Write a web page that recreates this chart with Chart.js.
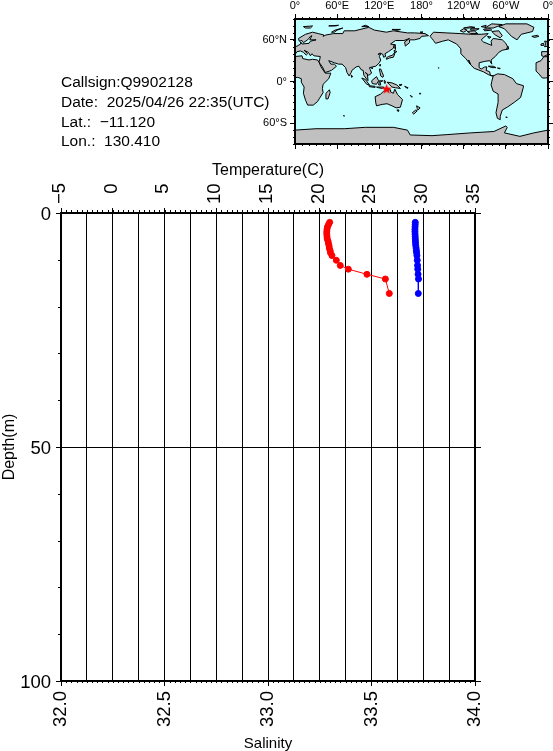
<!DOCTYPE html>
<html>
<head>
<meta charset="utf-8">
<script src="https://cdn.jsdelivr.net/npm/chart.js@4"></script>
<style>
  html, body { margin: 0; padding: 0; background: #fff; overflow: hidden; }
  #wrap { position: relative; width: 553px; height: 751px; overflow: hidden; }
  canvas { position: absolute; }
  .info { position: absolute; left: 61px; font: 15.5px "Liberation Sans", sans-serif; white-space: pre; color: #000; line-height: 18px; }
</style>
</head>
<body>
<div id="wrap">
  <canvas id="profile" width="553" height="751" style="left:0;top:0"></canvas>
  <canvas id="map" width="340" height="155" style="left:240px;top:0"></canvas>
  <div class="info" style="top:73px">Callsign:Q9902128</div>
  <div class="info" style="top:93px">Date:  2025/04/26 22:35(UTC)</div>
  <div class="info" style="top:113px">Lat.:  −11.120</div>
  <div class="info" style="top:132px">Lon.:  130.410</div>
</div>
<script>
// profile values
var depths =   [2, 2.5, 3, 3.5, 4, 4.5, 5, 5.5, 6, 6.5, 7, 7.5, 8, 8.5, 9.1, 10.1, 11.2, 12, 13.1, 14.1, 17.2];
var salinity = [33.298, 33.292, 33.287, 33.285, 33.284, 33.284, 33.285, 33.286, 33.29, 33.292, 33.295, 33.296, 33.3, 33.302, 33.309, 33.33, 33.349, 33.388, 33.478, 33.567, 33.586];
var temperature = [29.23, 29.22, 29.21, 29.2, 29.2, 29.21, 29.22, 29.23, 29.24, 29.26, 29.28, 29.31, 29.33, 29.36, 29.39, 29.42, 29.45, 29.47, 29.5, 29.54, 29.52];

// station position
var stationLon = 130.41;
var stationLat = -11.12;

// map tick labels
var lonLabels = {0: "0°", 60: "60°E", 120: "120°E", 180: "180°", 240: "120°W", 300: "60°W", 360: "0°"};
var latLabels = {60: "60°N", 0: "0°", "-60": "60°S"};

// coastlines, [lon, lat], lon runs 0..360
var eurasia = [[0,39],[3,43],[8,44],[12,42],[16,38],[18,40],[13,45],[19,42],[22,37],[24,40],[27,37],[36,36],[35,31],[34,28],[39,21],[43,13],[52,16],[59,22],[56,25],[51,25],[48,30],[56,27],[62,25],[67,25],[72,20],[74,13],[77,8],[80,13],[81,16],[87,21],[91,22],[94,17],[97,16],[98,9],[103,2],[104,1],[103,10],[100,13],[105,9],[109,12],[107,17],[106,20],[110,21],[115,22],[120,27],[122,31],[120,36],[122,40],[118,39],[121,41],[125,39],[126,35],[129,36],[128,40],[133,43],[140,48],[141,53],[136,54],[143,59],[155,59],[163,62],[156,57],[157,51],[163,56],[163,60],[170,60],[178,62],[180,65],[190,66],[185,69],[170,70],[160,70],[140,73],[130,71],[113,74],[105,78],[85,73],[70,73],[68,69],[55,69],[44,67],[40,65],[41,67],[33,69],[25,71],[15,68],[5,62],[6,58],[10,59],[12,56],[18,60],[22,65],[24,66],[21,60],[30,60],[22,58],[20,55],[10,54],[8,57],[8,54],[3,51],[0,50]];
var iberia = [[360,43],[351,43],[351,37],[354,36],[360,39]];
var africaEast = [[0,36],[10,37],[11,33],[20,31],[25,32],[32,31],[34,28],[37,21],[43,12],[51,12],[48,4],[40,-4],[39,-10],[40,-16],[35,-24],[32,-29],[26,-34],[18,-34],[15,-27],[12,-17],[13,-8],[9,-1],[9,4],[4,6],[0,5.5]];
var africaWest = [[360,36],[354,35.5],[350,30],[343,27],[343,21],[343,15],[347,11],[352,5],[356,5],[360,5.5]];
var madagascar = [[49,-12],[50,-16],[47,-25],[44,-25],[44,-17]];
var australia = [[114,-22],[122,-18],[126,-14],[131,-12],[136,-12],[136,-15],[140,-17],[142,-11],[146,-19],[153,-26],[150,-37],[144,-38],[138,-35],[131,-32],[124,-33],[116,-35],[115,-31]];
var tasmania = [[145,-41],[148,-41],[147,-43.5]];
var newZealandN = [[173,-35],[178,-38],[175,-41],[174,-39]];
var newZealandS = [[172,-41],[174,-42],[169,-47],[167,-45]];
var newGuinea = [[131,-1],[138,-2],[145,-5],[150,-10],[143,-9],[138,-8],[134,-4]];
var borneo = [[109,1],[116,7],[119,1],[116,-4],[110,-3]];
var sumatra = [[95,5],[100,3],[106,-5],[102,-4]];
var java = [[105,-6],[114,-7],[114,-8.5],[106,-7.5]];
var sulawesi = [[120,1],[125,1],[121,-1],[122,-5],[119,-5]];
var lesserSunda = [[116,-8],[125,-8],[127,-8.5],[124,-10],[119,-9]];
var moluccas = [[127,2],[129,0],[128,-3],[127,-1]];
var newBritain = [[148,-5],[152,-4],[151,-6]];
var solomons = [[156,-7],[161,-9],[160,-10]];
var philippines = [[120,18],[122,18],[124,13],[126,8],[125,6],[122,8],[121,13]];
var japan = [[130,32],[135,34],[140,35],[142,40],[141,45],[145,43],[141,41],[139,38],[133,36],[130,34]];
var sakhalin = [[142,54],[143,50],[143,46],[142,48]];
var taiwan = [[121,25],[122,24],[121,22],[120,23]];
var hainan = [[109,20],[111,19.5],[109.5,18]];
var sriLanka = [[80,9.5],[82,7],[80.5,6]];
var britain = [[355,58],[358,58],[360,53],[360,51],[355,50],[357,54]];
var ireland = [[350,54],[354,55],[354,52],[350,52]];
var iceland = [[337,65],[345,66.5],[347,65],[341,63.5]];
var svalbard = [[12,79],[25,80],[22,77],[15,77]];
var novayaZemlya = [[52,71],[57,74],[68,77],[60,74],[56,71]];
var severnaya = [[95,79],[105,79],[100,81]];
var newSiberia = [[138,75],[150,75],[145,73.5]];
var franzJosef = [[48,80],[62,81],[58,80]];
var wrangel = [[178,71],[182,71.5],[181,70.5]];
var hawaii = [[204,20],[205,19.5],[204.5,19]];
var fiji = [[177,-17],[179,-17],[178,-18.5]];
var newCaledonia = [[164,-20],[167,-22],[166,-22.5]];
var falkland = [[300,-51],[302,-51.5],[301,-52.5]];
var kerguelen = [[69,-49],[70.5,-49.5],[69.5,-50]];
var northAmerica = [[192,65],[197,71],[215,70],[235,69],[250,68],[265,68],[275,69],[265,60],[268,57],[280,52],[279,58],[282,62],[295,60],[300,55],[304,47],[295,45],[290,42],[285,36],[279,31],[280,25],[277,30],[270,29],[262,27],[262,20],[265,18],[270,21],[273,21],[272,16],[277,14],[278,9],[283,8],[280,8],[275,10],[268,14],[255,19],[250,24],[247,31],[250,24],[243,33],[236,40],[236,47],[230,54],[218,60],[210,58],[200,55],[197,59],[195,62]];
var southAmerica = [[282,8],[288,11],[298,10],[310,4],[315,-3],[325,-6],[325,-8],[321,-23],[312,-30],[302,-37],[295,-41],[292,-50],[292,-55],[288,-53],[286,-45],[289,-30],[289,-18],[282,-14],[279,-5],[280,0]];
var greenland = [[316,60],[308,65],[298,76],[290,79],[300,83],[330,83],[340,78],[338,72],[322,68]];
var baffin = [[280,72],[290,73],[295,66],[292,63],[285,67]];
var ellesmere = [[270,77],[280,83],[295,82],[282,77]];
var devon = [[268,75],[278,76],[280,74],[270,73]];
var axelHeiberg = [[265,79],[272,81],[270,78]];
var victoria = [[245,72],[255,73],[260,69],[250,69]];
var banks = [[235,73],[240,76],[245,74],[240,71]];
var melville = [[250,76],[262,76],[258,74],[250,74]];
var parry = [[240,77],[250,79],[256,78],[248,77]];
var southampton = [[274,65],[279,64],[276,62]];
var cuba = [[275,22],[282,22],[286,20],[280,20]];
var hispaniola = [[288,19.5],[292,19],[291,18]];
var newfoundland = [[301,47],[304,47],[303,51]];
var antarctica = [[0,-70],[30,-68],[70,-68],[100,-66],[140,-66],[160,-70],[164,-77],[195,-78],[216,-76.5],[250,-74],[283,-72],[300,-64],[302,-66],[298,-74],[320,-79],[340,-74],[360,-70],[360,-90],[0,-90]];
var landShapes = [eurasia, iberia, africaEast, africaWest, madagascar, australia, tasmania, newZealandN, newZealandS, newGuinea, borneo, sumatra, java, sulawesi, lesserSunda, moluccas, newBritain, solomons, philippines, japan, sakhalin, taiwan, hainan, sriLanka, britain, ireland, iceland, svalbard, novayaZemlya, severnaya, newSiberia, franzJosef, wrangel, hawaii, fiji, newCaledonia, falkland, kerguelen, northAmerica, southAmerica, greenland, baffin, ellesmere, devon, axelHeiberg, victoria, banks, melville, parry, southampton, cuba, hispaniola, newfoundland, antarctica];

Chart.defaults.font.family = '"Liberation Sans", sans-serif';
Chart.defaults.color = "#000";

// short tick marks outside the frame, Chart.js has no minor ticks on linear axes
var minorTicks = {
  id: "minorTicks",
  afterDraw: function (chart, args, opts) {
    var ctx = chart.ctx;
    ctx.save();
    ctx.strokeStyle = "#000";
    ctx.lineWidth = 1;
    opts.list.forEach(function (m) {
      var scale = chart.scales[m.scale];
      var area = chart.chartArea;
      for (var v = scale.min; v <= scale.max + 1e-6; v += m.step) {
        var p = Math.round(scale.getPixelForValue(v)) + 0.5;
        ctx.beginPath();
        if (scale.position == "top") { ctx.moveTo(p, area.top); ctx.lineTo(p, area.top - m.len); }
        if (scale.position == "bottom") { ctx.moveTo(p, area.bottom); ctx.lineTo(p, area.bottom + m.len); }
        if (scale.position == "left") { ctx.moveTo(area.left, p); ctx.lineTo(area.left - m.len, p); }
        if (scale.position == "right") { ctx.moveTo(area.right, p); ctx.lineTo(area.right + m.len, p); }
        ctx.stroke();
      }
    });
    ctx.restore();
  }
};

// sea background and filled land, using the points the scales placed
var landFill = {
  id: "landFill",
  beforeDatasetsDraw: function (chart) {
    var ctx = chart.ctx;
    var area = chart.chartArea;
    ctx.save();
    ctx.fillStyle = "#c0ffff";
    ctx.fillRect(area.left, area.top, area.right - area.left, area.bottom - area.top);
    ctx.beginPath();
    ctx.rect(area.left, area.top, area.right - area.left, area.bottom - area.top);
    ctx.clip();
    ctx.fillStyle = "#c0c0c0";
    ctx.strokeStyle = "#000";
    ctx.lineWidth = 1;
    chart.data.datasets.forEach(function (ds, i) {
      if (!ds.land) return;
      var pts = chart.getDatasetMeta(i).data;
      ctx.beginPath();
      pts.forEach(function (p, k) {
        if (k == 0) ctx.moveTo(p.x, p.y); else ctx.lineTo(p.x, p.y);
      });
      ctx.closePath();
      ctx.fill();
      ctx.stroke();
    });
    ctx.restore();
  }
};

function toPoints(xs, ys) {
  return xs.map(function (x, i) { return {x: x, y: ys[i]}; });
}

// top axis labels read upward from the axis, pad short ones so all end level
function tempLabel(v) {
  if (v % 5 != 0) return "";
  var s = String(Math.abs(v));
  if (v < 0) return "−" + s;
  return s.length == 1 ? "\u2007" + s : s;
}

new Chart(document.getElementById("profile"), {
  type: "scatter",
  data: {
    datasets: [
      {
        label: "Salinity",
        data: toPoints(salinity, depths),
        xAxisID: "xSal",
        yAxisID: "y",
        showLine: true,
        borderColor: "#ff0000",
        backgroundColor: "#ff0000",
        borderWidth: 1,
        pointRadius: 3
      },
      {
        label: "Temperature",
        data: toPoints(temperature, depths),
        xAxisID: "xTemp",
        yAxisID: "y",
        showLine: true,
        borderColor: "#0000ff",
        backgroundColor: "#0000ff",
        borderWidth: 1,
        pointRadius: 3
      }
    ]
  },
  options: {
    responsive: false,
    animation: false,
    layout: {padding: {top: 161, left: 0, right: 72, bottom: 0}},
    plugins: {
      legend: {display: false},
      tooltip: {enabled: false},
      minorTicks: {list: [
        {scale: "xTemp", step: 0.5, len: 3},
        {scale: "xSal", step: 0.025, len: 2},
        {scale: "y", step: 10, len: 3}
      ]}
    },
    scales: {
      xTemp: {
        axis: "x",
        position: "top",
        min: -5,
        max: 35,
        afterFit: function (s) { s.height = 52; },
        title: {display: true, text: "Temperature(C)", font: {size: 16}, padding: 0},
        border: {color: "#000", width: 2},
        grid: {
          color: "#000",
          lineWidth: 1,
          tickLength: 5,
          tickColor: function (c) { return c.tick && c.tick.value % 5 == 0 ? "#000" : "rgba(0,0,0,0)"; }
        },
        ticks: {
          stepSize: 2.5,
          autoSkip: false,
          minRotation: 90,
          maxRotation: 90,
          padding: 4,
          labelOffset: 21,
          font: {size: 18.5},
          callback: tempLabel
        }
      },
      xSal: {
        axis: "x",
        position: "bottom",
        min: 32,
        max: 34,
        afterFit: function (s) { s.height = 70; },
        title: {display: true, text: "Salinity", font: {size: 15}, padding: {top: 0, bottom: -2}},
        border: {color: "#000", width: 2},
        grid: {drawOnChartArea: false, color: "#000", tickLength: 5},
        ticks: {
          stepSize: 0.5,
          autoSkip: false,
          minRotation: 90,
          maxRotation: 90,
          padding: 5,
          font: {size: 18.5},
          callback: function (v) { return v.toFixed(1); }
        }
      },
      y: {
        position: "left",
        reverse: true,
        min: 0,
        max: 100,
        afterFit: function (s) { s.width = 61; },
        title: {display: true, text: "Depth(m)", font: {size: 16}, padding: 0},
        border: {color: "#000", width: 2},
        grid: {color: "#000", lineWidth: 1, tickLength: 5},
        ticks: {stepSize: 50, padding: 5, labelOffset: 2, font: {size: 18.5}}
      },
      yRight: {
        axis: "y",
        position: "right",
        reverse: true,
        min: 0,
        max: 100,
        afterFit: function (s) { s.width = 6; },
        border: {color: "#000", width: 2},
        grid: {drawOnChartArea: false, color: "#000", tickLength: 6},
        ticks: {stepSize: 50, display: false}
      }
    }
  },
  plugins: [minorTicks]
});

// filled red star for the station, scatter has no filled star style
function starImage(size) {
  var c = document.createElement("canvas");
  c.width = size;
  c.height = size;
  var g = c.getContext("2d");
  g.fillStyle = "#ff0000";
  g.beginPath();
  for (var i = 0; i < 10; i++) {
    var r = i % 2 == 0 ? size / 2 : size / 5;
    var a = -Math.PI / 2 + i * Math.PI / 5;
    var px = size / 2 + r * Math.cos(a);
    var py = size / 2 + r * Math.sin(a);
    if (i == 0) g.moveTo(px, py); else g.lineTo(px, py);
  }
  g.closePath();
  g.fill();
  return c;
}

var mapDatasets = landShapes.map(function (shape) {
  return {
    land: true,
    showLine: false,
    pointRadius: 0,
    data: shape.map(function (p) { return {x: p[0], y: p[1]}; })
  };
});
mapDatasets.push({
  data: [{x: stationLon, y: stationLat}],
  pointStyle: starImage(11),
  pointRadius: 5
});

function frameAxis(pos, lo, hi, step, size, axis) {
  return {
    axis: axis,
    position: pos,
    min: lo,
    max: hi,
    afterFit: function (s) { if (axis == "x") s.height = size; else s.width = size; },
    border: {color: "#000", width: 2, z: 1},
    grid: {drawOnChartArea: false, color: "#000", tickLength: 5},
    ticks: {stepSize: step, display: false}
  };
}

var lonTop = frameAxis("top", 0, 360, 60, 19, "x");
lonTop.ticks = {
  stepSize: 60, autoSkip: false, maxRotation: 0, minRotation: 0, padding: 1, font: {size: 11},
  callback: function (v) { return lonLabels[v]; }
};
var latLeft = frameAxis("left", -90, 90, 60, 55, "y");
latLeft.ticks = {
  stepSize: 60, autoSkip: false, padding: 3, font: {size: 11},
  callback: function (v) { return latLabels[v] || ""; }
};
latLeft.afterBuildTicks = function (s) {
  s.ticks = [{value: -60}, {value: 0}, {value: 60}];
};
var latRight = frameAxis("right", -90, 90, 60, 5, "y");
latRight.afterBuildTicks = latLeft.afterBuildTicks;

new Chart(document.getElementById("map"), {
  type: "scatter",
  data: {datasets: mapDatasets},
  options: {
    responsive: false,
    animation: false,
    layout: {padding: {top: 0, left: 0, right: 27, bottom: 6}},
    plugins: {
      legend: {display: false},
      tooltip: {enabled: false},
      minorTicks: {list: [
        {scale: "x", step: 10, len: 2},
        {scale: "xBottom", step: 10, len: 2},
        {scale: "y", step: 10, len: 2},
        {scale: "yRight", step: 10, len: 2}
      ]}
    },
    scales: {
      x: lonTop,
      xBottom: frameAxis("bottom", 0, 360, 60, 5, "x"),
      y: latLeft,
      yRight: latRight
    }
  },
  plugins: [landFill, minorTicks]
});
</script>
</body>
</html>
